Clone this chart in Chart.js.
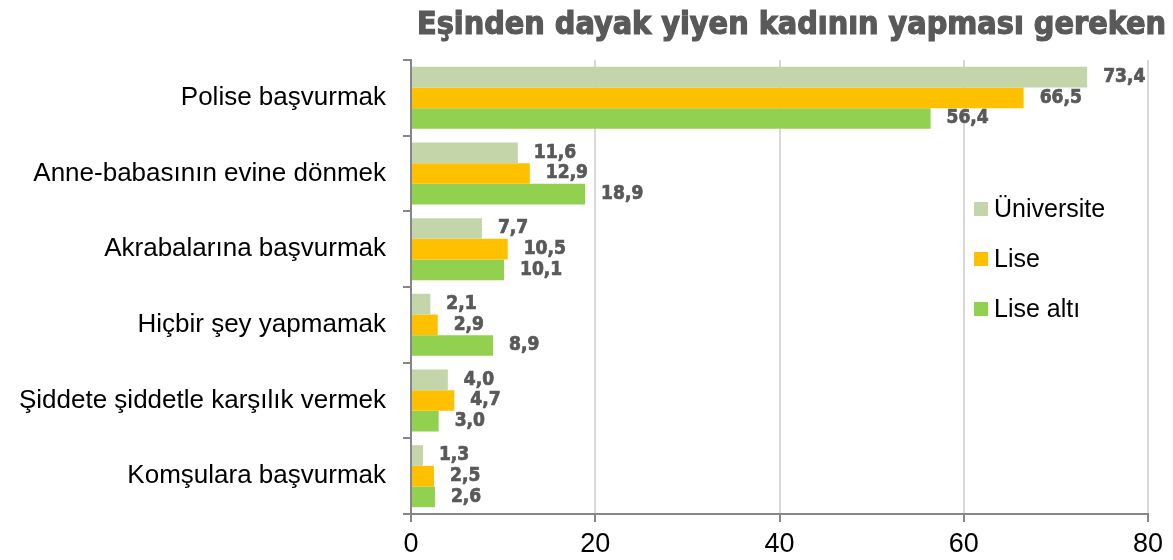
<!DOCTYPE html>
<html>
<head>
<meta charset="utf-8">
<script src="https://cdn.jsdelivr.net/npm/chart.js@4"></script>
<style>
  html, body { margin: 0; padding: 0; background: #fff; }
  #wrap { width: 1173px; height: 560px; }
</style>
</head>
<body>
<div id="wrap"><canvas id="chart" width="1173" height="560"></canvas></div>
<script>
var title = 'Eşinden dayak yiyen kadının yapması gereken'
var categories = ['Polise başvurmak', 'Anne-babasının evine dönmek', 'Akrabalarına başvurmak',
    'Hiçbir şey yapmamak', 'Şiddete şiddetle karşılık vermek', 'Komşulara başvurmak']
var seriesNames = ['Üniversite', 'Lise', 'Lise altı']
var universite = [73.4, 11.6, 7.7, 2.1, 4.0, 1.3]
var lise = [66.5, 12.9, 10.5, 2.9, 4.7, 2.5]
var liseAlti = [56.4, 18.9, 10.1, 8.9, 3.0, 2.6]
var xTicks = [0, 20, 40, 60, 80]
var colors = ['#c4d6a9', '#ffc000', '#92d050']

// title drawn left-aligned like the original (it runs off the right edge)
const titlePlugin = {
    id: 'leftTitle',
    afterDraw(chart) {
        const ctx = chart.ctx;
        ctx.save();
        ctx.font = 'bold 32px "DejaVu Sans Condensed", "DejaVu Sans"';
        ctx.fillStyle = '#595959';
        ctx.strokeStyle = '#595959';
        ctx.lineWidth = 1.2;
        ctx.textBaseline = 'alphabetic';
        ctx.textAlign = 'left';
        ctx.fillText(title, 417, 34);
        ctx.strokeText(title, 417, 34);
        ctx.restore();
    }
};

// value labels to the right of each bar
const valueLabels = {
    id: 'valueLabels',
    afterDatasetsDraw(chart) {
        const ctx = chart.ctx;
        ctx.save();
        ctx.font = 'bold 19px "DejaVu Sans Condensed", "DejaVu Sans"';
        ctx.fillStyle = '#595959';
        ctx.strokeStyle = '#595959';
        ctx.lineWidth = 0.7;
        ctx.textBaseline = 'middle';
        ctx.textAlign = 'left';
        chart.data.datasets.forEach((ds, i) => {
            chart.getDatasetMeta(i).data.forEach((bar, j) => {
                const txt = ds.data[j].toFixed(1).replace('.', ',');
                ctx.fillText(txt, bar.x + 16, bar.y);
                ctx.strokeText(txt, bar.x + 16, bar.y);
            });
        });
        ctx.restore();
    }
};

// legend sitting inside the plot on the right
const sideLegend = {
    id: 'sideLegend',
    afterDraw(chart) {
        const ctx = chart.ctx;
        ctx.save();
        ctx.font = '25px "Liberation Sans", Arial';
        ctx.textBaseline = 'middle';
        ctx.textAlign = 'left';
        chart.data.datasets.forEach((ds, i) => {
            const y = 209 + i * 50;
            ctx.fillStyle = ds.backgroundColor;
            ctx.fillRect(974, y - 7, 14, 14);
            ctx.fillStyle = '#000';
            ctx.fillText(ds.label, 994, y + 1);
        });
        ctx.restore();
    }
};

new Chart(document.getElementById('chart').getContext('2d'), {
    type: 'bar',
    data: {
        labels: categories,
        datasets: [
            { label: seriesNames[0], data: universite, backgroundColor: colors[0] },
            { label: seriesNames[1], data: lise, backgroundColor: colors[1] },
            { label: seriesNames[2], data: liseAlti, backgroundColor: colors[2] }
        ]
    },
    options: {
        indexAxis: 'y',
        responsive: false,
        animation: false,
        devicePixelRatio: 1,
        layout: { padding: { top: 60, right: 25, left: 0, bottom: 0 } },
        datasets: { bar: { categoryPercentage: 0.82, barPercentage: 1.0 } },
        plugins: {
            legend: { display: false },
            title: { display: false },
            tooltip: { enabled: false }
        },
        scales: {
            x: {
                min: 0,
                max: 80,
                afterBuildTicks(scale) { scale.ticks = xTicks.map(v => ({ value: v })); },
                afterFit(scale) { scale.height = 46; },
                border: { color: '#868686', width: 2 },
                grid: { color: '#d9d9d9', lineWidth: 2, tickLength: 8, tickColor: '#868686' },
                ticks: {
                    color: '#000',
                    padding: 6,
                    font: { family: '"Liberation Sans", Arial', size: 27 }
                }
            },
            y: {
                afterFit(scale) { scale.width = 411; },
                border: { color: '#868686', width: 2 },
                grid: { offset: true, drawOnChartArea: false, tickLength: 8, color: '#868686', lineWidth: 2 },
                ticks: {
                    color: '#000',
                    padding: 17,
                    font: { family: '"Liberation Sans", Arial', size: 26 }
                }
            }
        }
    },
    plugins: [titlePlugin, valueLabels, sideLegend]
});
</script>
</body>
</html>
